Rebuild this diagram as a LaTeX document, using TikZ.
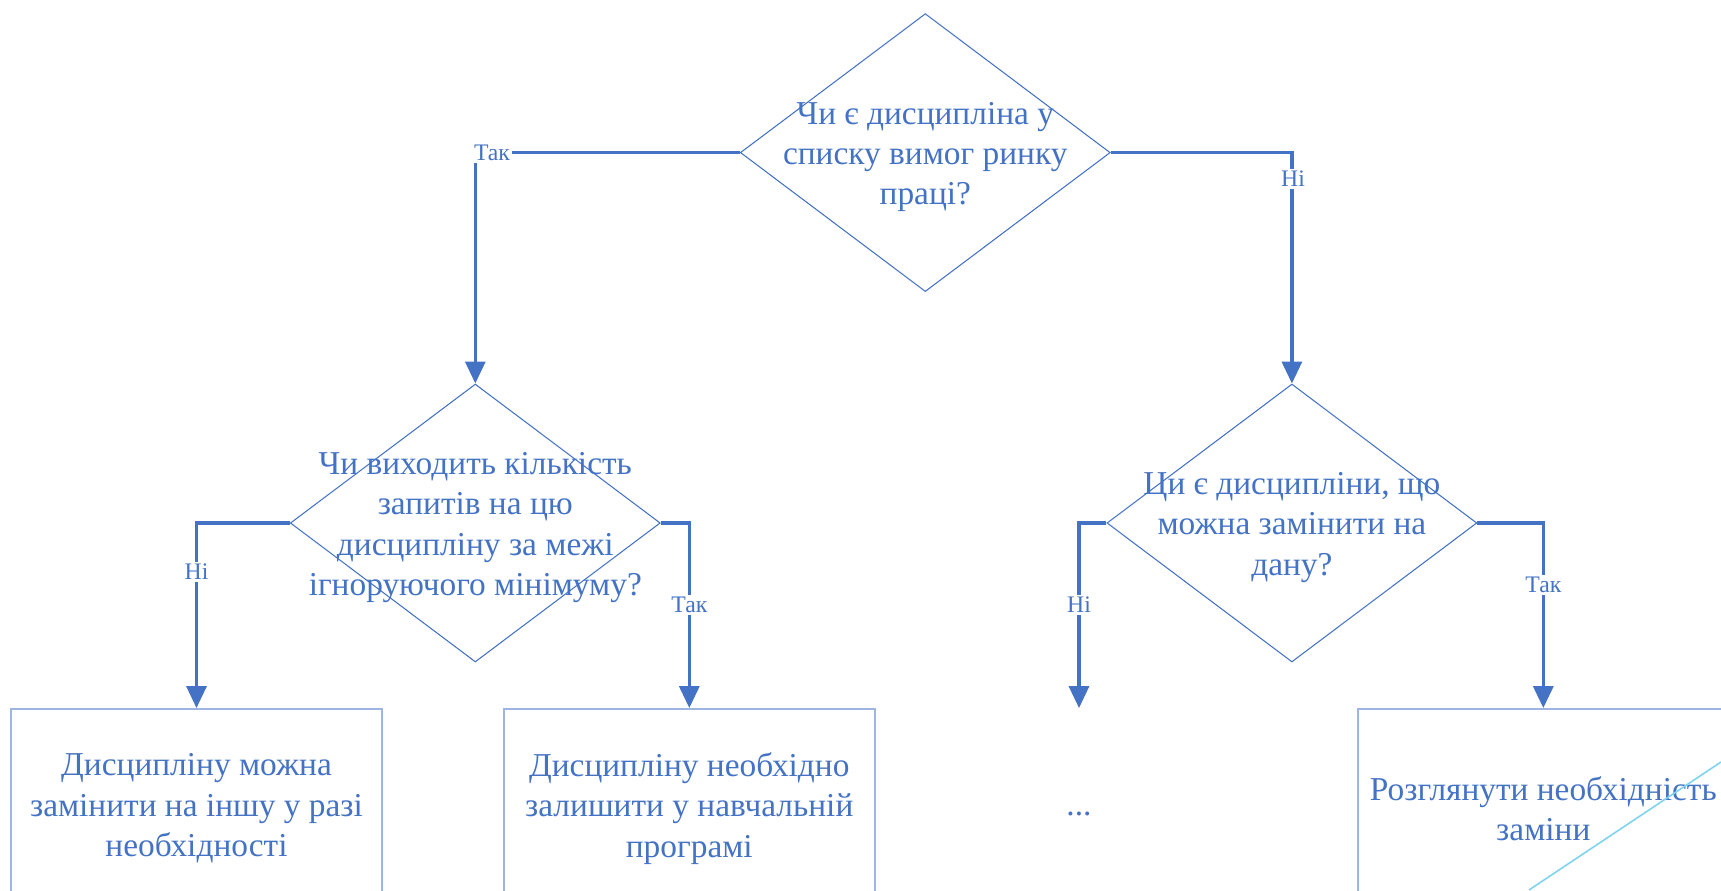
\documentclass[tikz,border=0pt]{standalone}
\usepackage{fontspec}
\setmainfont{Liberation Serif}
\usepackage{xcolor}
\usepackage{tikz}
\usetikzlibrary{shapes.geometric}
\usetikzlibrary{arrows.meta}
\definecolor{flowblue}{HTML}{4472C4}
\definecolor{boxblue}{HTML}{9DB5E0}
\definecolor{decocyan}{HTML}{7FD3F0}

\begin{document}
\begin{tikzpicture}[x=0.02cm, y=-0.02cm,
	decision/.style = {draw=flowblue, line width=0.6pt, diamond, minimum width=7.4cm, minimum height=5.56cm, inner sep=0pt},
	qtext/.style = {text=flowblue, align=center, yshift=-2.5pt, font=\fontsize{19pt}{23pt}\selectfont},
	result/.style = {draw=boxblue, line width=1.1pt, rectangle, minimum width=7.42cm, minimum height=3.98cm, text=flowblue, align=center, font=\fontsize{19pt}{23pt}\selectfont},
	answer/.style = {fill=white, text=flowblue, inner sep=1pt, font=\fontsize{13.5pt}{15pt}\selectfont},
	flow/.style = {draw=flowblue, line width=1.9pt, -{Triangle[width=0.4cm, length=0.44cm]}}]
					\useasboundingbox (0,0) rectangle (1721,890);
					\clip (0,0) rectangle (1721,890);
					\node[decision] (q1) at (925.3,152.6) {};
					\node[decision] (q2) at (475.3,523) {};
					\node[decision] (q3) at (1291.9,523) {};
					\node[qtext] (q1t) at (q1) {Чи є дисципліна у\\ списку вимог ринку\\ праці?};
					\node[qtext] (q2t) at (q2) {Чи виходить кількість\\ запитів на цю\\ дисципліну за межі\\ ігноруючого мінімуму?};
					\node[qtext] (q3t) at (q3) {Ци є дисципліни, що\\ можна замінити на\\ дану?};
					\node[result] (b1) at (196.5,808.5) {Дисципліну можна\\ замінити на іншу у разі\\ необхідності};
					\node[result] (b2) at (689.3,808.5) {Дисципліну необхідно\\ залишити у навчальній\\ програмі};
					\node[result, draw=none, minimum height=4.2cm] (b3) at (1079,814) {...};
					\node[result] (b4) at (1543.3,808.5) {Розглянути необхідність\\ заміни};
					\draw[flow] (q1.west) -| (q2.north);
					\draw[flow] (q1.east) -| (q3.north);
					\draw[flow] (q2.west) -| (b1.north);
					\draw[flow] (q2.east) -| (b2.north);
					\draw[flow] (q3.west) -| (b3.north);
					\draw[flow] (q3.east) -| (b4.north);
					\node[answer] (yes1) at (492,153) {Так};
					\node[answer] (no1) at (1293,179) {Ні};
					\node[answer] (no2) at (196.5,572) {Ні};
					\node[answer] (yes2) at (689.3,605) {Так};
					\node[answer] (no3) at (1079,605) {Ні};
					\node[answer] (yes3) at (1543.3,585) {Так};
					\draw[decocyan, line width=0.9pt] (1529,890) -- (1721,762);
					\end{tikzpicture}
\end{document}
